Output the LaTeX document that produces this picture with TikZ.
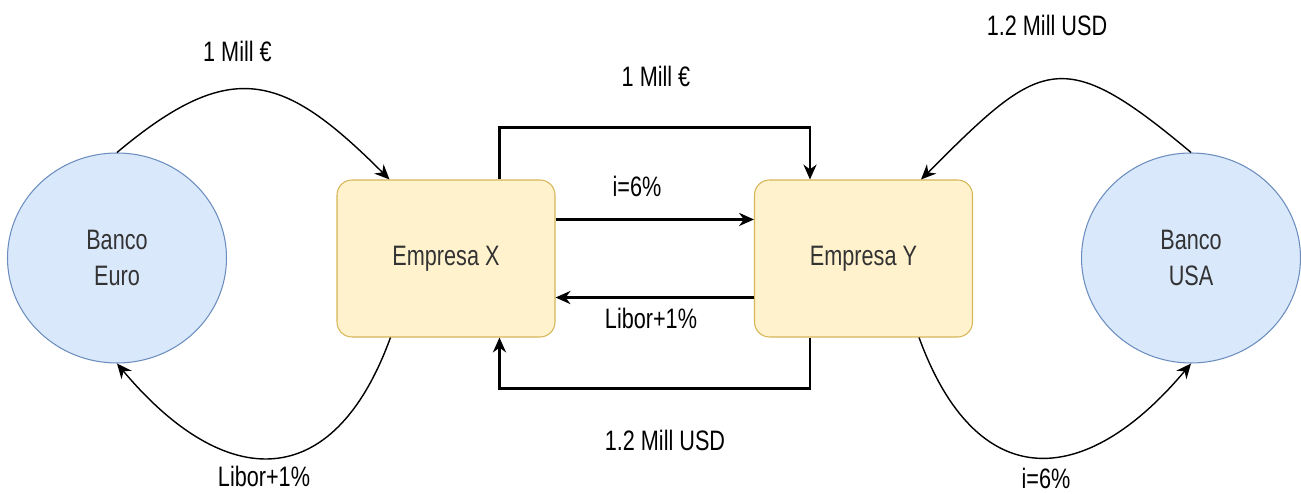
\documentclass[tikz,border=0pt]{standalone}
\usepackage{fontspec}
\setmainfont{Liberation Sans}[FakeStretch=0.77]
\usetikzlibrary{shapes.geometric,arrows.meta}
\definecolor{bankfill}{HTML}{DAE8FC}
\definecolor{bankline}{HTML}{6C8EBF}
\definecolor{firmfill}{HTML}{FFF2CC}
\definecolor{firmline}{HTML}{D6B656}
\begin{document}
\begin{tikzpicture}[
    every node/.style={font=\fontsize{16}{20.4}\selectfont},
    bank/.style={ellipse, draw=bankline, fill=bankfill, line width=0.6pt, minimum width=4.38cm, minimum height=4.2cm, inner sep=0pt, align=center, text=black!80},
    firm/.style={rectangle, rounded corners=0.3cm, draw=firmline, fill=firmfill, line width=0.6pt, minimum width=4.36cm, minimum height=3.14cm, text=black!80},
    flow/.style={-{Stealth[length=8.5pt,width=7.5pt]}, line width=1.2pt},
    swing/.style={-{Stealth[length=8.5pt,width=7.5pt]}, line width=0.8pt}]
    \useasboundingbox (0,0) rectangle (26.02,9.88);
    \node[bank] (BE) at (2.34,4.72) {Banco\\Euro};
    \node[firm] (EX) at (8.92,4.71) {Empresa X};
    \node[firm] (EY) at (17.27,4.71) {Empresa Y};
    \node[bank] (BU) at (23.82,4.72) {Banco\\USA};
    \draw[swing] (BE.north) to[out=40,in=135,looseness=1.4] ([xshift=1.06cm]EX.north west);
    \draw[swing] ([xshift=1.08cm]EX.south west) to[out=250,in=-50,looseness=1.56] (BE.south);
    \draw[flow] ([xshift=3.26cm]EX.north west) -- ++(0,1.04) -| ([xshift=1.12cm]EY.north west);
    \draw[flow] ([yshift=-0.8cm]EX.north east) -- ([yshift=-0.8cm]EY.north west);
    \draw[flow] ([yshift=0.8cm]EY.south west) -- ([yshift=0.8cm]EX.south east);
    \draw[flow] ([xshift=1.12cm]EY.south west) -- ++(0,-1.02) -| ([xshift=3.26cm]EX.south west);
    \draw[swing] (BU.north) to[out=140,in=45,looseness=1.6] ([xshift=-1.04cm]EY.north east);
    \draw[swing] ([xshift=-1.08cm]EY.south east) to[out=-70,in=230,looseness=1.56] (BU.south);
    \node (eurIn) at (4.75,8.86) {1 Mill €};
    \node (eurOut) at (5.28,0.36) {Libor+1\%};
    \node (eurSwap) at (13.12,8.35) {1 Mill €};
    \node (fixSwap) at (12.74,6.16) {i=6\%};
    \node (libSwap) at (13.02,3.52) {Libor+1\%};
    \node (usdSwap) at (13.3,1.08) {1.2 Mill USD};
    \node (usdIn) at (20.94,9.38) {1.2 Mill USD};
    \node (usdOut) at (20.92,0.32) {i=6\%};
\end{tikzpicture}
\end{document}
